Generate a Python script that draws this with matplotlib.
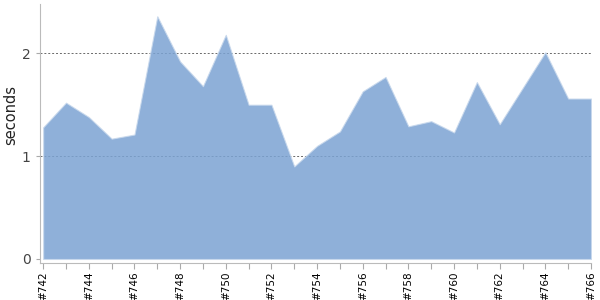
import matplotlib
matplotlib.use("Agg")
import matplotlib.pyplot as plt
import numpy as np

# build numbers and duration in seconds
builds = list(range(742, 767))
seconds = [1.28, 1.52, 1.38, 1.17, 1.21, 2.36, 1.92, 1.68, 2.18, 1.50,
           1.50, 0.90, 1.10, 1.24, 1.63, 1.77, 1.29, 1.34, 1.23, 1.72,
           1.31, 1.66, 2.01, 1.56, 1.56]
y_ticks = [0, 1, 2]

fig = plt.figure(figsize=(6, 3), dpi=100)
ax = fig.add_axes([0.067, 0.123, 0.918, 0.864])

x = np.arange(len(builds))
# slightly transparent so the grid shows faintly through the area
ax.fill_between(x, 0, seconds, color="#7BA3D3", alpha=0.85, linewidth=0.8,
                edgecolor="#c8d8ec", zorder=2)

ax.set_xlim(-0.13, len(builds) - 1)
ax.set_ylim(-0.04, 2.48)

for yv in y_ticks[1:]:
    ax.axhline(yv, color="#444444", linestyle=(0, (2, 2)), linewidth=0.7, alpha=0.8, zorder=1)

ax.set_yticks(y_ticks)
ax.set_yticklabels([str(v) for v in y_ticks], color="#444444", fontsize=10)
ax.set_xticks(x)
ax.set_xticklabels(["#%d" % b if i % 2 == 0 else "" for i, b in enumerate(builds)],
                   rotation=90, fontsize=7.5, color="black")
ax.tick_params(axis="x", length=4, color="#aaaaaa", pad=2)
ax.tick_params(axis="y", length=3, color="#aaaaaa", pad=4)

ax.set_ylabel("seconds", fontsize=10.5, color="#222222")
ax.yaxis.set_label_coords(-0.04, 0.57)

for s in ["top", "right"]:
    ax.spines[s].set_visible(False)
for s in ["left", "bottom"]:
    ax.spines[s].set_color("#bbbbbb")

fig.savefig("out.png", dpi=100)
